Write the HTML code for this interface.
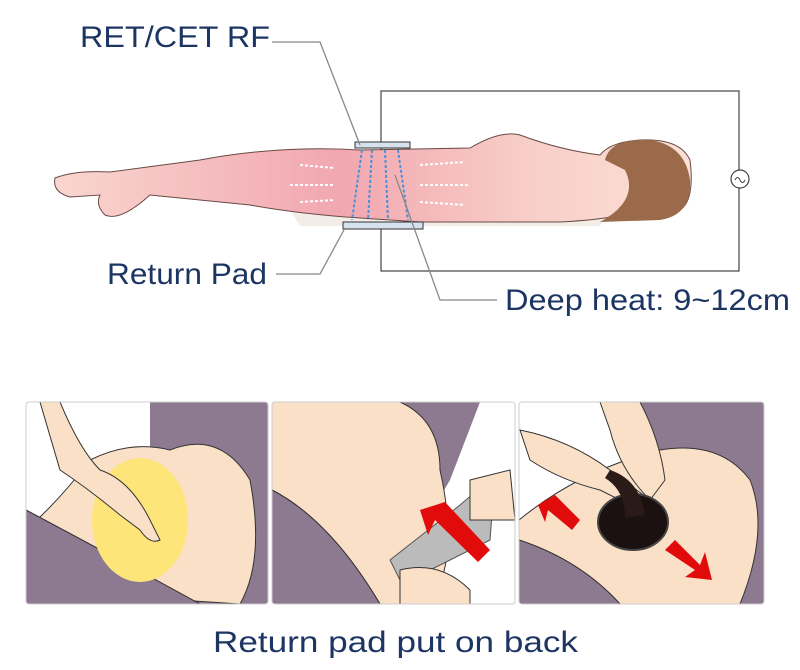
<!DOCTYPE html>
<html><head><style>
html,body{margin:0;padding:0;background:#fff;}
svg{display:block;}
text{font-family:"Liberation Sans",Arial,sans-serif;fill:#1d3563;}
</style></head><body>
<svg width="800" height="670" viewBox="0 0 800 670" xmlns="http://www.w3.org/2000/svg">
<defs>
<linearGradient id="bg" x1="0" y1="0" x2="1" y2="0">
<stop offset="0" stop-color="#f9d6cf"/><stop offset="0.45" stop-color="#f2a7b0"/><stop offset="0.75" stop-color="#f8cfc8"/><stop offset="1" stop-color="#fbe0d6"/>
</linearGradient>
<clipPath id="c1"><rect x="26" y="402" width="242" height="202" rx="3"/></clipPath>
<clipPath id="c2"><rect x="272" y="402" width="243" height="202" rx="3"/></clipPath>
<clipPath id="c3"><rect x="519" y="402" width="245" height="202" rx="3"/></clipPath>
</defs>
<rect x="381" y="91" width="358" height="180" fill="none" stroke="#444" stroke-width="1.2"/>
<circle cx="740" cy="179" r="9" fill="#fff" stroke="#444" stroke-width="1.2"/>
<path d="M735 180 q2.5 -5 5 0 t5 0" fill="none" stroke="#444"/>
<path d="M290 210 Q400 200 540 205 L610 212 L600 226 L300 226 Z" fill="#f3ede8"/>
<path d="M55 178 Q75 170 110 172 L200 160 Q280 145 360 150 L470 148 Q500 130 520 135 Q560 150 600 155 Q610 142 640 140 Q680 138 690 160 Q695 200 680 210 L620 215 Q600 220 560 222 L420 222 L360 218 Q300 214 250 205 L150 195 Q120 222 105 215 Q95 205 100 195 L70 197 Q52 192 55 178 Z" fill="url(#bg)" stroke="#6a4a45" stroke-width="1"/>
<path d="M605 160 Q610 138 650 140 Q685 145 690 180 Q692 215 660 220 L600 222 Q640 200 625 170 Z" fill="#9a6a4a"/>
<rect x="355" y="142" width="55" height="6" fill="#d6e2ee" stroke="#333"/>
<rect x="343" y="222" width="80" height="7" fill="#d6e2ee" stroke="#333"/>
<g stroke="#4a90d8" stroke-width="2" stroke-dasharray="3,2" fill="none">
<path d="M362 150 L352 220"/><path d="M372 150 L368 220"/><path d="M385 150 L388 220"/><path d="M398 150 L408 220"/>
</g>
<g stroke="#fff" stroke-width="2" stroke-dasharray="3,2">
<path d="M300 165 L335 168"/><path d="M290 185 L335 185"/><path d="M300 202 L335 200"/>
<path d="M420 165 L465 162"/><path d="M420 185 L470 185"/><path d="M420 202 L465 205"/>
</g>
<g stroke="#888" stroke-width="1.3" fill="none">
<path d="M272 42 L320 42 L360 145"/>
<path d="M276 274 L320 274 L345 228"/>
<path d="M497 300 L440 300 L395 175"/>
</g>
<text x="80" y="47" font-size="30" textLength="190" lengthAdjust="spacingAndGlyphs">RET/CET RF</text>
<text x="107" y="284" font-size="30" textLength="160" lengthAdjust="spacingAndGlyphs">Return Pad</text>
<text x="505" y="310" font-size="30" textLength="285" lengthAdjust="spacingAndGlyphs">Deep heat: 9~12cm</text>
<g clip-path="url(#c1)">
<rect x="26" y="402" width="242" height="202" fill="#fff"/>
<path d="M150 402 L268 402 L268 604 L150 604 Z" fill="#8e7a90"/>
<path d="M26 590 L26 530 Q60 500 90 460 Q130 440 170 450 Q220 430 250 480 Q265 560 240 604 Z" fill="#fbe0c8" stroke="#333"/>
<path d="M26 510 Q120 560 200 604 L26 604 Z" fill="#8e7a90" stroke="#333"/>
<ellipse cx="140" cy="520" rx="48" ry="62" fill="#fde57a"/>
<path d="M60 402 Q80 450 100 470 Q130 480 150 520 L160 540 Q150 545 140 530 L120 515 Q90 490 60 470 L40 402 Z" fill="#fbe0c8" stroke="#333"/>
</g>
<rect x="26" y="402" width="242" height="202" rx="3" fill="none" stroke="#ccc"/>
<g clip-path="url(#c2)">
<rect x="272" y="402" width="243" height="202" fill="#fff"/>
<path d="M390 402 L480 402 L450 480 L380 600 L272 604 Z" fill="#8e7a90"/>
<path d="M272 470 L272 402 L400 402 Q440 420 440 470 Q460 560 430 604 L380 604 Q330 520 272 490 Z" fill="#fbe0c8" stroke="#333"/>
<path d="M272 490 Q330 520 380 604 L272 604 Z" fill="#8e7a90" stroke="#333"/>
<path d="M460 505 L495 475 L490 540 L430 570 L410 600 L390 560 Z" fill="#bbbbbb" stroke="#555"/>
<path d="M470 480 L510 470 L515 520 L470 520 Z" fill="#fbe0c8" stroke="#333"/>
<path d="M400 570 Q440 560 470 590 L470 604 L400 604 Z" fill="#fbe0c8" stroke="#333"/>
<path d="M420 510 L445 502 L490 550 L478 562 L435 520 L428 535 Z" fill="#e20b0b"/>
</g>
<rect x="272" y="402" width="243" height="202" rx="3" fill="none" stroke="#ccc"/>
<g clip-path="url(#c3)">
<rect x="519" y="402" width="245" height="202" fill="#fff"/>
<path d="M640 402 L764 402 L764 604 L640 604 Z" fill="#8e7a90"/>
<path d="M519 520 Q580 470 660 450 Q720 440 750 480 Q770 530 740 604 L620 604 Q580 560 519 540 Z" fill="#fbe0c8" stroke="#333"/>
<path d="M519 540 Q580 560 620 604 L519 604 Z" fill="#8e7a90" stroke="#333"/>
<path d="M520 430 Q570 440 610 470 L650 500 L640 510 L600 490 Q560 480 530 460 Z" fill="#fbe0c8" stroke="#333"/>
<path d="M600 402 L640 402 Q660 440 665 480 L650 500 Q620 470 610 430 Z" fill="#fbe0c8" stroke="#333"/>
<ellipse cx="633" cy="522" rx="35" ry="28" fill="#1a1110" stroke="#444" stroke-width="2"/>
<path d="M610 470 Q640 480 645 515 L625 518 Q625 490 605 478 Z" fill="#2a1a18"/>
<path d="M538 505 L555 495 L580 520 L572 530 L548 510 L545 522 Z" fill="#e20b0b"/>
<path d="M665 550 L675 540 L700 565 L705 552 L712 580 L685 577 L695 570 Z" fill="#e20b0b"/>
</g>
<rect x="519" y="402" width="245" height="202" rx="3" fill="none" stroke="#ccc"/>
<text x="213" y="652" font-size="30" textLength="365" lengthAdjust="spacingAndGlyphs">Return pad put on back</text>
</svg>
</body></html>
